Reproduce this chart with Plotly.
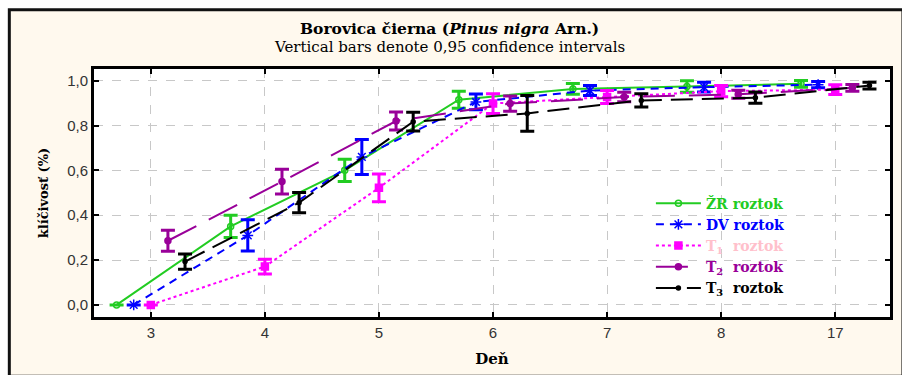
import plotly.graph_objects as go

days = ["3", "4", "5", "6", "7", "8", "17"]

zr = [0.0, 0.35, 0.60, 0.915, 0.963, 0.974, 0.986]
zr_ci = [None, 0.05, 0.05, 0.038, 0.024, 0.026, 0.015]
dv = [0.0, 0.31, 0.66, 0.905, 0.956, 0.971, 0.982]
dv_ci = [None, 0.07, 0.078, 0.035, 0.022, 0.022, 0.014]
t1 = [0.0, 0.171, 0.522, 0.898, 0.927, 0.953, 0.960]
t1_ci = [None, 0.033, 0.062, 0.044, 0.029, 0.025, 0.022]
t2 = [0.286, 0.55, 0.82, 0.898, 0.927, 0.939, 0.968]
t2_ci = [0.047, 0.055, 0.04, 0.034, 0.021, 0.018, 0.015]
t3 = [0.193, 0.456, 0.817, 0.854, 0.912, 0.924, 0.978]
t3_ci = [0.034, 0.045, 0.042, 0.08, 0.03, 0.025, 0.015]

y_ticks = [0.0, 0.2, 0.4, 0.6, 0.8, 1.0]
y_ticktext = ["0,0", "0,2", "0,4", "0,6", "0,8", "1,0"]

series = [
    ("ŽR roztok", zr, zr_ci, "#22CC22", "solid", "circle-open", 6, -0.3, "#22CC22"),
    ("DV roztok", dv, dv_ci, "#0000FF", "8px,6px", "asterisk-open", 9, -0.15, "#0000FF"),
    ("T<sub>1</sub>  roztok", t1, t1_ci, "#FF00FF", "dot", "square", 7, 0.0, "#FFC0CB"),
    ("T<sub>2</sub>  roztok", t2, t2_ci, "#990099", "32px,14px", "circle", 6, 0.15, "#990099"),
    ("T<sub>3</sub>  roztok", t3, t3_ci, "#000000", "22px,9px", "circle", 4, 0.3, "#000000"),
]

fig = go.Figure()
for name, vals, ci, color, dash, sym, size, off, tcol in series:
    xs = [i + off for i in range(len(days))]
    fig.add_trace(go.Scatter(
        x=xs, y=vals, mode="lines+markers",
        name="<span style='color:%s'><b>%s</b></span>" % (tcol, name),
        line=dict(color=color, width=2, dash=dash),
        marker=dict(symbol=sym, size=size, color=color, line=dict(color=color, width=1.5)),
        error_y=dict(type="data", array=ci, visible=True, color=color, thickness=3, width=7),
    ))

serif = "DejaVu Serif"
W, L, T, H = 799, 94, 69, 251


def px_x(p):
    return (p - L) / W


def px_y(p):
    return (T + H - p) / H


fig.update_layout(
    width=902, height=375,
    margin=dict(l=94, r=9, t=69, b=55),
    paper_bgcolor="white",
    plot_bgcolor="white",
    showlegend=True,
    legend=dict(x=px_x(653), y=px_y(189), xanchor="left", yanchor="top", bgcolor="rgba(0,0,0,0)",
                font=dict(family=serif, size=14, color="black"), tracegroupgap=0,
                itemwidth=45),
    shapes=[
        dict(type="rect", xref="paper", yref="paper",
             x0=px_x(9), x1=px_x(906), y0=px_y(380), y1=px_y(9),
             fillcolor="#FFF9EE", line=dict(color="#111111", width=3), layer="below"),
        dict(type="rect", xref="paper", yref="paper", x0=0, x1=1, y0=0, y1=1,
             fillcolor="white", line=dict(width=0), layer="below"),
    ],
    annotations=[
        dict(text="<b>Borovica čierna (<i>Pinus nigra</i> Arn.)</b>", xref="paper", yref="paper",
             x=px_x(451), y=px_y(28), xanchor="center", yanchor="middle", showarrow=False,
             font=dict(family=serif, size=15.5, color="black")),
        dict(text="Vertical bars denote 0,95 confidence intervals", xref="paper", yref="paper",
             x=px_x(451), y=px_y(47), xanchor="center", yanchor="middle", showarrow=False,
             font=dict(family=serif, size=15, color="black")),
    ],
    xaxis=dict(
        range=[-0.498, 6.48], tickmode="array", tickvals=list(range(len(days))), ticktext=days,
        ticks="inside", ticklen=5, tickwidth=2, tickcolor="black", mirror="ticks",
        showline=True, linecolor="black", linewidth=3,
        showgrid=True, gridcolor="#C8C8C8", griddash="dash", gridwidth=1, zeroline=False,
        tickfont=dict(family="Liberation Sans", size=15, color="#333333"),
        title=dict(text="<b>Deň</b>", font=dict(family=serif, size=15, color="black"), standoff=14),
    ),
    yaxis=dict(
        range=[-0.054, 1.052], tickmode="array", tickvals=y_ticks, ticktext=y_ticktext,
        ticks="inside", ticklen=5, tickwidth=2, tickcolor="black", mirror="ticks",
        showline=True, linecolor="black", linewidth=3,
        showgrid=True, gridcolor="#C8C8C8", griddash="dash", gridwidth=1, zeroline=False,
        tickfont=dict(family="Liberation Sans", size=15, color="#333333"),
        title=dict(text="<b>klíčivosť (%)</b>", font=dict(family=serif, size=13, color="black"), standoff=16),
    ),
)

fig.write_html("out.html")
